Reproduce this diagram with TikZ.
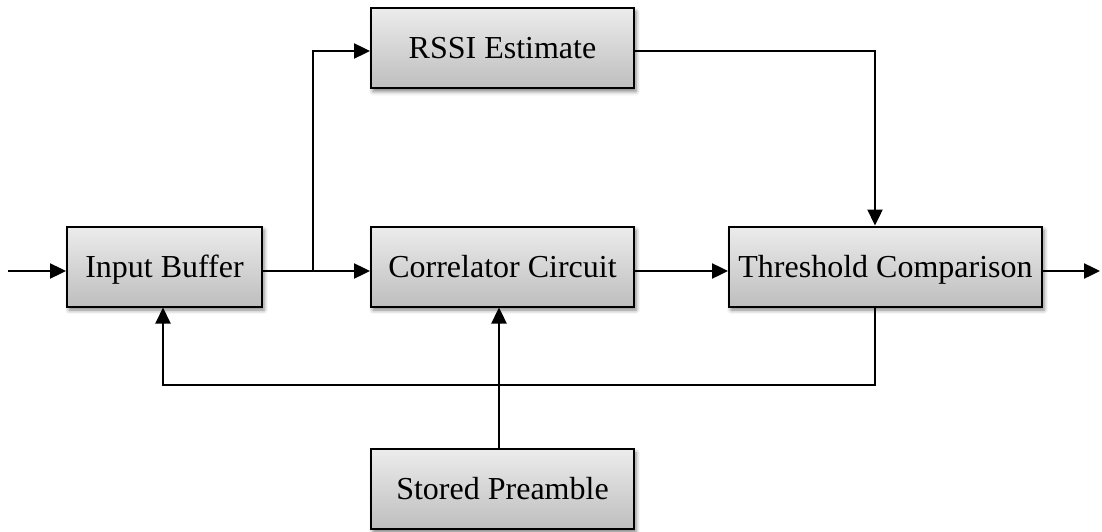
\documentclass[tikz,border=0pt]{standalone}
\usepackage{fontspec}
\setmainfont{Liberation Serif}
\usetikzlibrary{arrows.meta,shadows.blur}
\definecolor{boxtop}{RGB}{236,236,236}
\definecolor{boxbottom}{RGB}{190,190,190}
\begin{document}
\begin{tikzpicture}[x=1pt,y=-1pt,
  block/.style={draw=black, line width=2pt, minimum height=80pt, inner sep=0pt,
    text height=21pt, text depth=0pt,
    top color=boxtop, bottom color=boxbottom,
    blur shadow={shadow xshift=2pt, shadow yshift=-3.5pt, shadow blur radius=4pt, shadow opacity=50},
    font=\fontsize{32}{36}\selectfont},
  tip/.style={-{Triangle[length=16pt,width=15pt]}},
  flow/.style={line width=2.4pt, tip},
  link/.style={line width=2.4pt},
  fbline/.style={line width=2pt, tip}]
\useasboundingbox (0,0) rectangle (1102,532);

% processing blocks
\node[block, minimum width=195pt] (ib)   at (164.5,266.5) {Input Buffer};
\node[block, minimum width=263pt] (rssi) at (502.5,48)    {RSSI Estimate};
\node[block, minimum width=263pt] (corr) at (502.5,266.5) {Correlator Circuit};
\node[block, minimum width=313pt] (thr)  at (885.5,266.5) {Threshold Comparison};
\node[block, minimum width=263pt] (pre)  at (502.5,489)   {Stored Preamble};

% free ends and junctions
\coordinate (in)    at (8,271);
\coordinate (out)   at (1100,271);
\coordinate (split) at (313,271);
\coordinate (fb)    at (875,385);

% signal path
\draw[flow] (in) -- (in -| ib.west);
\draw[link] ([yshift=-4.5pt]ib.east) -- (split);
\draw[flow] (split) -- (split -| corr.west);
\draw[flow] (split) |- ([yshift=-3pt]rssi.west);
\draw[flow] ([yshift=-4.5pt]corr.east) -- ([yshift=-4.5pt]thr.west);
\draw[flow] ([yshift=-3pt]rssi.east) -| ([xshift=-10.5pt]thr.north);
\draw[flow] ([yshift=-4.5pt]thr.east) -- (out);

% reference preamble into the correlator
\draw[flow] ([xshift=-3.5pt]pre.north) -- ([xshift=-3.5pt]corr.south);

% feedback from the comparison back to the buffer
\draw[fbline] ([xshift=-10.5pt]thr.south) -- (fb) -| ([xshift=-1.5pt]ib.south);
\end{tikzpicture}
\end{document}
